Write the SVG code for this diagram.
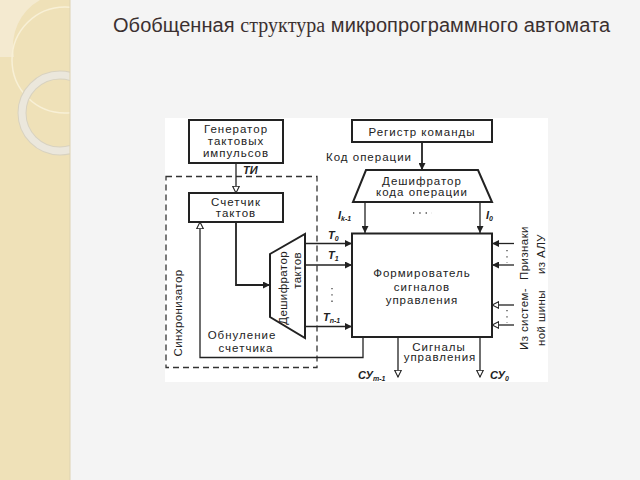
<svg xmlns="http://www.w3.org/2000/svg" width="640" height="480" viewBox="0 0 640 480">
<style>
.t{font-family:"Liberation Sans",Arial,sans-serif;font-size:11.5px;fill:#222;letter-spacing:1px}
.r{letter-spacing:0.4px}
.m{text-anchor:middle}
.i{font-family:"Liberation Sans",Arial,sans-serif;font-size:11px;font-style:italic;font-weight:bold;fill:#222}
.box{fill:#fff;stroke:#222;stroke-width:2}
.ln{fill:none;stroke:#222;stroke-width:1.3}
.thk{fill:none;stroke:#222;stroke-width:1.8}
.fa{marker-end:url(#fa)}
.oa{marker-end:url(#oa)}
.dot{fill:none;stroke:#444;stroke-width:1.3;stroke-dasharray:1.3 5}
</style>
<defs>
<marker id="fa" viewBox="0 0 10 10" refX="10" refY="5" markerWidth="8" markerHeight="7" markerUnits="userSpaceOnUse" orient="auto">
<path d="M0,0 L10,5 L0,10 z" fill="#222"/>
</marker>
<marker id="oa" viewBox="0 0 12 12" refX="11" refY="6" markerWidth="8" markerHeight="8" markerUnits="userSpaceOnUse" orient="auto">
<path d="M1,1 L11,6 L1,11 z" fill="#fff" stroke="#222" stroke-width="1.6"/>
</marker>
<clipPath id="band"><rect x="0" y="0" width="70" height="480"/></clipPath>
</defs>
<rect x="0" y="0" width="640" height="480" fill="#f4f4f4"/>
<g id="decor" clip-path="url(#band)">
<rect x="0" y="0" width="70" height="480" fill="#efe1b8"/>
<path d="M0,0 L40,0 A53,53 0 0 0 14,57 L0,57 z" fill="#f4ead0"/>
<circle cx="65" cy="60" r="53" fill="none" stroke="#f8f0d6" stroke-width="1.5"/>
<circle cx="60" cy="113" r="38" fill="none" stroke="#d8d2c0" stroke-width="9"/>
<circle cx="60" cy="113" r="38" fill="none" stroke="#ebe7dc" stroke-width="7"/>
</g>
<line x1="70" y1="0" x2="70" y2="480" stroke="#ddd2b2" stroke-width="1"/>
<text x="113" y="31.5" font-family="'Liberation Sans',Arial,sans-serif" font-size="20" fill="#3b3030" textLength="497" lengthAdjust="spacing">Обобщенная <tspan font-family="'Liberation Serif','Times New Roman',serif">структура</tspan> микропрограммного автомата</text>
<rect id="panel" x="165" y="118" width="383" height="264" fill="#fff"/>
<g id="sync">
<rect x="166" y="176.5" width="151" height="191" fill="none" stroke="#333" stroke-width="1.3" stroke-dasharray="6 4"/>
<text class="t r m" transform="translate(178,313) rotate(-90)" y="4">Синхронизатор</text>
</g>
<g id="connectors">
<line class="ln oa" x1="236" y1="163" x2="236" y2="193"/>
<polyline class="thk fa" points="236,222 236,285 270,285"/>
<line class="thk fa" x1="422" y1="142" x2="422" y2="170"/>
<line class="ln fa" x1="365" y1="202" x2="365" y2="233"/>
<line class="ln fa" x1="480" y1="202" x2="480" y2="233"/>
<line class="ln fa" x1="305" y1="243.5" x2="352" y2="243.5"/>
<line class="ln fa" x1="305" y1="265" x2="352" y2="265"/>
<line class="ln fa" x1="305" y1="326.5" x2="352" y2="326.5"/>
<polyline class="ln oa" points="363,337 363,357.5 200,357.5 200,222"/>
<line class="ln fa" x1="514" y1="243.5" x2="492" y2="243.5"/>
<line class="ln fa" x1="514" y1="265" x2="492" y2="265"/>
<line class="ln oa" x1="514" y1="305" x2="492" y2="305"/>
<line class="ln oa" x1="514" y1="325" x2="492" y2="325"/>
<line class="ln oa" x1="398" y1="337" x2="398" y2="377"/>
<line class="ln oa" x1="480" y1="337" x2="480" y2="377"/>
<line class="dot" x1="507" y1="250" x2="507" y2="263"/>
<line class="dot" x1="507" y1="310" x2="507" y2="323"/>
<line class="dot" x1="413" y1="213" x2="432" y2="213"/>
<line class="dot" x1="332" y1="288" x2="332" y2="305"/>
</g>
<g id="gen">
<rect class="box" x="189" y="120" width="94" height="43"/>
<text class="t m" x="236" y="133">Генератор</text>
<text class="t m" x="236" y="145">тактовых</text>
<text class="t m" x="236" y="157">импульсов</text>
</g>
<g id="reg">
<rect class="box" x="352" y="120" width="140" height="22"/>
<text class="t m" x="422" y="135.5">Регистр команды</text>
</g>
<text class="t m" x="369" y="160.5">Код операции</text>
<g id="dec-op">
<polygon class="box" points="366,170 478,170 492,202 353,202"/>
<text class="t m" x="422" y="185">Дешифратор</text>
<text class="t m" x="422" y="196">кода операции</text>
</g>
<text class="i" x="338" y="219">I<tspan font-size="7" dy="2">k-1</tspan></text>
<text class="i" x="486" y="219">I<tspan font-size="7" dy="2">0</tspan></text>
<g id="cnt">
<rect class="box" x="189" y="193" width="94" height="29"/>
<text class="t m" x="236" y="205.5">Счетчик</text>
<text class="t m" x="236" y="217">тактов</text>
</g>
<text class="i" x="243" y="174">ТИ</text>
<g id="dec-t">
<polygon class="box" points="270,254 305,234 305,338 270,317"/>
<text class="t r" text-anchor="end" transform="translate(283,251) rotate(-90)" y="4">Дешифратор</text>
<text class="t r" text-anchor="end" transform="translate(297,252) rotate(-90)" y="4">тактов</text>
</g>
<text class="i" x="328" y="239">T<tspan font-size="7" dy="2">0</tspan></text>
<text class="i" x="328" y="259">T<tspan font-size="7" dy="2">1</tspan></text>
<text class="i" x="323" y="320.5">T<tspan font-size="7" dy="2">n-1</tspan></text>
<g id="form">
<rect class="box" x="352" y="233.5" width="140" height="103.5"/>
<text class="t m" x="422" y="276.5">Формирователь</text>
<text class="t m" x="422" y="290.5">сигналов</text>
<text class="t m" x="422" y="304">управления</text>
</g>
<text class="t m" x="242" y="339">Обнуление</text>
<text class="t m" x="246" y="352">счетчика</text>
<text class="t m" x="439" y="350.5">Сигналы</text>
<text class="t m" x="440" y="361">управления</text>
<text class="i" x="358" y="379">СУ<tspan font-size="7" dy="2">m-1</tspan></text>
<text class="i" x="490" y="379">СУ<tspan font-size="7" dy="2">0</tspan></text>
<text class="t r m" transform="translate(524,253) rotate(-90)" y="4">Признаки</text>
<text class="t r m" transform="translate(541,254) rotate(-90)" y="4">из АЛУ</text>
<text class="t r m" transform="translate(524,319) rotate(-90)" y="4">Из систем-</text>
<text class="t r m" transform="translate(541,318) rotate(-90)" y="4">ной шины</text>
</svg>
